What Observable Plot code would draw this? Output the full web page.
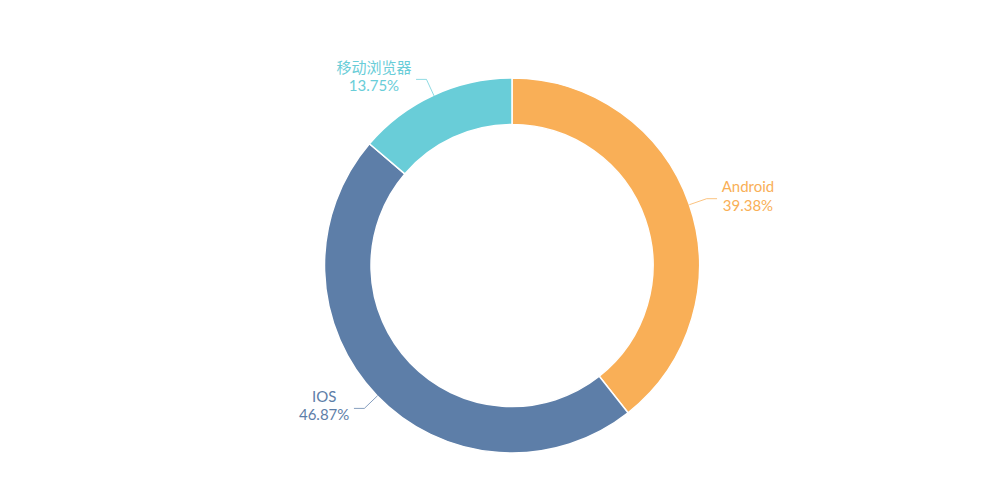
<!DOCTYPE html>
<html>
<head>
<meta charset="utf-8">
<script src="https://cdn.jsdelivr.net/npm/d3@7"></script>
<script src="https://cdn.jsdelivr.net/npm/@observablehq/plot@0.6"></script>
<style>
  html, body { margin: 0; padding: 0; background: #fff; }
  #chart { width: 984px; height: 500px; }
</style>
</head>
<body>
<div id="chart"></div>
<script>
// Data
const categories = ["Android", "IOS", "移动浏览器"];
const values = [39.38, 46.87, 13.75];
const valueLabels = ["39.38%", "46.87%", "13.75%"];
const colors = ["#f9af57", "#5d7ea8", "#69cdd8"];

const W = 984, H = 500;
const FONT = 'Lato, "Noto Sans CJK SC", sans-serif';
const FONT_SIZE = 15;
const LINE_GAP = 18.5;
const center = {x: 20, y: 15.5};       // in data coordinates
const rInner = 141, rOuter = 187.5;
const len1 = 18, len2 = 10, gap = 5;

const data = categories.map((c, i) => ({name: c, value: values[i], label: valueLabels[i], color: colors[i]}));
const pie = d3.pie().value(d => d.value).sort(null)(data);

// measure text
const ctx = document.createElement("canvas").getContext("2d");
ctx.font = `${FONT_SIZE}px ${FONT}`;

// leader lines + label positions (computed from angles)
const lines = [];
const labels = [];
pie.forEach((a, i) => {
  const mid = (a.startAngle + a.endAngle) / 2;
  const dx = Math.sin(mid), dy = -Math.cos(mid);
  const side = dx >= 0 ? 1 : -1;
  const p0 = {x: center.x + rOuter * dx, y: center.y + rOuter * dy};
  const p1 = {x: center.x + (rOuter + len1) * dx, y: center.y + (rOuter + len1) * dy};
  const p2 = {x: p1.x + side * len2, y: p1.y};
  [p0, p1, p2].forEach((p, k) => lines.push({id: i, k, x: p.x, y: p.y, color: a.data.color}));
  const w = Math.max(ctx.measureText(a.data.name).width, ctx.measureText(a.data.label).width);
  labels.push({x: p2.x + side * (gap + w / 2), y: p2.y - 2, name: a.data.name, label: a.data.label, color: a.data.color});
});

function arcs(index, scales, values, dims) {
  const g = d3.create("svg:g");
  const cx = scales.x(center.x), cy = scales.y(center.y);
  const arc = d3.arc().innerRadius(rInner).outerRadius(rOuter);
  g.selectAll("path").data(pie).join("path")
    .attr("transform", `translate(${cx},${cy})`)
    .attr("d", arc)
    .attr("fill", d => d.data.color)
    .attr("stroke", "#fff")
    .attr("stroke-width", 1.5);
  return g.node();
}

const chart = Plot.plot({
  width: W, height: H,
  margin: 0,
  x: {domain: [-W / 2, W / 2], range: [0, W], axis: null},
  y: {domain: [-H / 2, H / 2], range: [0, H], axis: null},
  style: {fontFamily: FONT, background: "#fff"},
  marks: [
    arcs,
    Plot.line(lines, {x: "x", y: "y", z: "id", stroke: "color", strokeWidth: 1, strokeOpacity: 0.75}),
    Plot.text(labels, {x: "x", y: "y", text: "name", fill: "color", fontSize: FONT_SIZE, lineAnchor: "middle", textAnchor: "middle", dy: -LINE_GAP / 2}),
    Plot.text(labels, {x: "x", y: "y", text: "label", fill: "color", fontSize: FONT_SIZE, lineAnchor: "middle", textAnchor: "middle", dy: LINE_GAP / 2})
  ]
});
document.getElementById("chart").append(chart);
</script>
</body>
</html>
